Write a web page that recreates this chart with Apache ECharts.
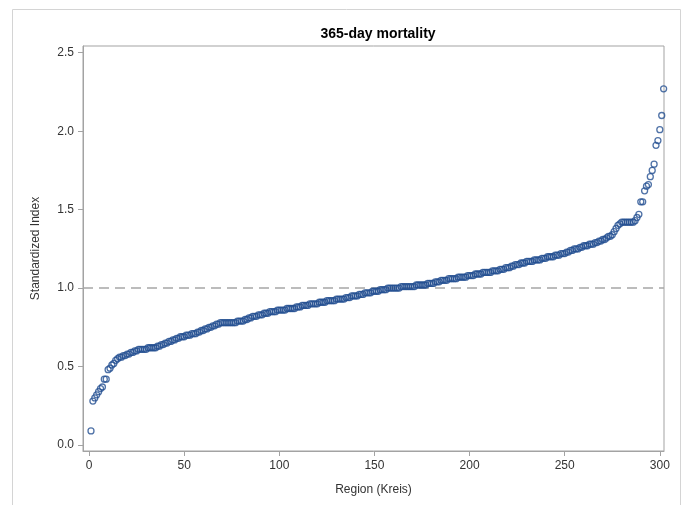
<!DOCTYPE html>
<html>
<head>
<meta charset="utf-8">
<script src="https://cdn.jsdelivr.net/npm/echarts@6/dist/echarts.min.js"></script>
<style>
  html, body { margin: 0; padding: 0; background: #fff; }
  #chart { width: 683px; height: 505px; }
</style>
</head>
<body>
<div id="chart"></div>
<script>
// Standardized 365-day mortality index per region (Kreis), sorted ascending
const indexValues = [
  0.09,0.28,0.30,0.32,0.34,0.36,0.37,0.42,0.42,0.48,
  0.49,0.51,0.52,0.54,0.55,0.56,0.56,0.57,0.57,0.58,
  0.58,0.59,0.59,0.60,0.60,0.61,0.61,0.61,0.61,0.61,
  0.62,0.62,0.62,0.62,0.62,0.63,0.63,0.64,0.64,0.65,
  0.65,0.66,0.66,0.67,0.67,0.68,0.68,0.69,0.69,0.69,
  0.70,0.70,0.70,0.71,0.71,0.71,0.72,0.72,0.73,0.73,
  0.74,0.74,0.75,0.75,0.76,0.76,0.77,0.77,0.78,0.78,
  0.78,0.78,0.78,0.78,0.78,0.78,0.78,0.79,0.79,0.79,
  0.79,0.80,0.80,0.81,0.81,0.82,0.82,0.82,0.83,0.83,
  0.83,0.84,0.84,0.84,0.85,0.85,0.85,0.85,0.86,0.86,
  0.86,0.86,0.86,0.87,0.87,0.87,0.87,0.87,0.88,0.88,
  0.88,0.89,0.89,0.89,0.89,0.90,0.90,0.90,0.90,0.90,
  0.91,0.91,0.91,0.91,0.92,0.92,0.92,0.92,0.92,0.93,
  0.93,0.93,0.93,0.93,0.94,0.94,0.94,0.95,0.95,0.95,
  0.95,0.96,0.96,0.96,0.97,0.97,0.97,0.97,0.98,0.98,
  0.98,0.98,0.99,0.99,0.99,0.99,1.00,1.00,1.00,1.00,
  1.00,1.00,1.00,1.01,1.01,1.01,1.01,1.01,1.01,1.01,
  1.01,1.02,1.02,1.02,1.02,1.02,1.02,1.03,1.03,1.03,
  1.03,1.04,1.04,1.04,1.05,1.05,1.05,1.05,1.06,1.06,
  1.06,1.06,1.06,1.07,1.07,1.07,1.07,1.07,1.08,1.08,
  1.08,1.08,1.09,1.09,1.09,1.09,1.10,1.10,1.10,1.10,
  1.10,1.11,1.11,1.11,1.11,1.12,1.12,1.12,1.13,1.13,
  1.13,1.14,1.14,1.15,1.15,1.15,1.16,1.16,1.16,1.17,
  1.17,1.17,1.17,1.18,1.18,1.18,1.18,1.19,1.19,1.19,
  1.20,1.20,1.20,1.20,1.21,1.21,1.21,1.22,1.22,1.22,
  1.23,1.23,1.24,1.24,1.25,1.25,1.25,1.26,1.26,1.27,
  1.27,1.27,1.28,1.28,1.28,1.29,1.29,1.30,1.30,1.31,
  1.31,1.32,1.33,1.33,1.34,1.36,1.38,1.40,1.41,1.42,
  1.42,1.42,1.42,1.42,1.42,1.42,1.43,1.45,1.47,1.55,
  1.55,1.62,1.65,1.66,1.71,1.75,1.79,1.91,1.94,2.01,
  2.10,2.27
];
const xTicks = [0, 50, 100, 150, 200, 250, 300];
const yTicks = [0, 0.5, 1.0, 1.5, 2.0, 2.5];
const referenceLevel = 1.0;

const points = indexValues.map((v, i) => [i + 1, v]);

const axisGray = '#a3a3a3';
const textColor = '#333333';
const fontFamily = '"Liberation Sans", Arial, sans-serif';

const chart = echarts.init(document.getElementById('chart'), null, { renderer: 'canvas' });
chart.setOption({
  animation: false,
  backgroundColor: '#ffffff',
  textStyle: { fontFamily: fontFamily },
  graphic: [{
    type: 'rect',
    silent: true,
    shape: { x: 12.5, y: 9.5, width: 668, height: 520 },
    style: { fill: 'none', stroke: '#d4d4d4', lineWidth: 1 },
    z: -10
  }],
  title: {
    text: '365-day mortality',
    left: 373,
    top: 22,
    textAlign: 'center',
    textStyle: { fontSize: 14, fontWeight: 'bold', color: '#000', fontFamily: fontFamily }
  },
  grid: {
    left: 83, top: 46, right: 19, bottom: 54,
    show: true, borderColor: axisGray, borderWidth: 1, containLabel: false
  },
  xAxis: {
    type: 'value',
    min: -3.2, max: 302.2,
    name: 'Region (Kreis)',
    nameLocation: 'middle',
    nameGap: 33,
    nameTextStyle: { fontSize: 12, color: textColor, fontFamily: fontFamily },
    axisLine: { show: true, onZero: false, lineStyle: { color: axisGray } },
    axisTick: { show: true, length: 5, customValues: xTicks, lineStyle: { color: axisGray } },
    axisLabel: { customValues: xTicks, fontSize: 12, color: textColor, margin: 9, fontFamily: fontFamily },
    splitLine: { show: false }
  },
  yAxis: {
    type: 'value',
    min: -0.038, max: 2.543,
    name: 'Standardized Index',
    nameLocation: 'middle',
    nameGap: 41,
    nameTextStyle: { fontSize: 12, color: textColor, fontFamily: fontFamily },
    axisLine: { show: true, onZero: false, lineStyle: { color: axisGray } },
    axisTick: { show: true, length: 5, customValues: yTicks, lineStyle: { color: axisGray } },
    axisLabel: {
      customValues: yTicks, fontSize: 12, color: textColor, margin: 9, fontFamily: fontFamily,
      formatter: v => v.toFixed(1)
    },
    splitLine: { show: false }
  },
  series: [{
    type: 'scatter',
    data: points,
    symbol: 'circle',
    symbolSize: 6,
    itemStyle: { color: 'rgba(255,255,255,0)', borderColor: '#234f91', borderWidth: 1.3 },
    markLine: {
      silent: true,
      symbol: 'none',
      label: { show: false },
      lineStyle: { color: '#a6a6a6', type: [10, 6], width: 1.5 },
      data: [{ yAxis: referenceLevel }],
      z: 1
    },
    z: 3
  }]
});
</script>
</body>
</html>
